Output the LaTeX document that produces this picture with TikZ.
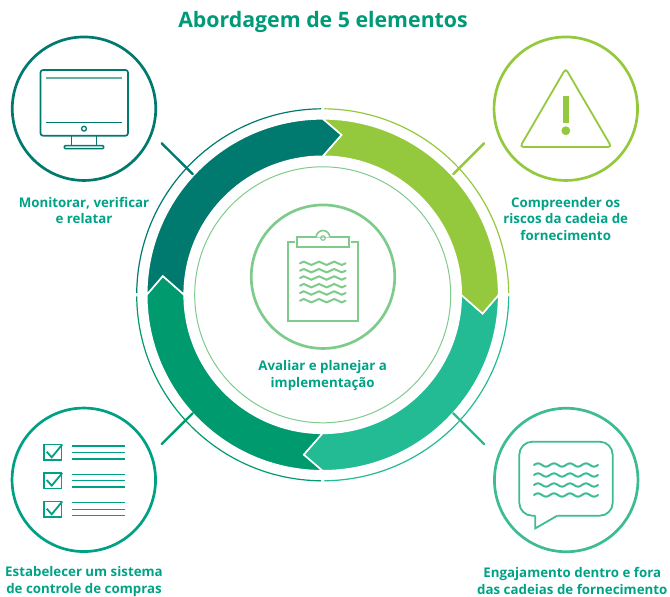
\documentclass[tikz,border=0pt]{standalone}
\usepackage{fontspec}
\setmainfont{Open Sans}
\definecolor{tealdark}{HTML}{007A6F}
\definecolor{limegreen}{HTML}{95C93D}
\definecolor{tealsoft}{HTML}{22BB93}
\definecolor{greendeep}{HTML}{009A6F}
\definecolor{mintsoft}{HTML}{7FCB8C}
\definecolor{textgreen}{HTML}{00A286}
\definecolor{titlegreen}{HTML}{009A78}
\definecolor{checkgreen}{HTML}{00A084}
\definecolor{talkgreen}{HTML}{3DBB95}
\tikzset{
  iconcirc/.style={circle, draw=#1, line width=2.7pt, minimum size=143.5pt, inner sep=0pt},
  steplabel/.style={align=center, text=textgreen, font=\fontsize{13.3}{16.8}\selectfont\bfseries},
  tickline/.style={line width=2.4pt, line cap=round}
}
% One block of the ring, from angle #1 through a quarter turn
\newcommand{\ringblock}[2]{%
  \filldraw[fill=#2, draw=white, line width=1.6pt, line join=miter]
    (#1:176) arc[start angle=#1, delta angle=90, radius=176]
    -- (#1+96.7:161) -- (#1+90:138.5)
    arc[start angle=#1+90, delta angle=-90, radius=138.5]
    -- (#1+6.7:161) -- cycle;
}
% One wavy text line with its number of periods
\newcommand{\waveline}[3]{%
  \draw[#3, line width=2pt, line cap=round] (#1,#2)
    \foreach \n in {1,...,3} {sin ++(3.8,-1.7) cos ++(3.8,1.7) sin ++(3.8,1.7) cos ++(3.8,-1.7)};
}
\newcommand{\wavelinelong}[2]{%
  \draw[talkgreen, line width=2pt, line cap=round] (#1,#2)
    \foreach \n in {1,...,4} {sin ++(4,-1.7) cos ++(4,1.7) sin ++(4,1.7) cos ++(4,-1.7)};
}
\begin{document}
\begin{tikzpicture}[x=1pt, y=-1pt]
  \useasboundingbox (0,0) rectangle (670,597);

  % Title
  \node[text=titlegreen, font=\fontsize{21.3}{26}\selectfont\bfseries] (title) at (323,22) {Abordagem de 5 elementos};

  % Ring
  \begin{scope}[shift={(322.7,294.8)}]
    % Thin outer arcs
    \draw[tealdark, line width=1.2pt] (180.5:186) arc[start angle=180.5, delta angle=89, radius=186];
    \draw[limegreen, line width=1.2pt] (270.5:186) arc[start angle=270.5, delta angle=89, radius=186];
    \draw[tealsoft, line width=1.2pt] (0.5:186) arc[start angle=0.5, delta angle=89, radius=186];
    \draw[greendeep, line width=1.2pt] (90.5:186) arc[start angle=90.5, delta angle=89, radius=186];
    % Thick blocks
    \ringblock{90}{greendeep}
    \ringblock{0}{tealsoft}
    \ringblock{270}{limegreen}
    \ringblock{180}{tealdark}
    \draw[mintsoft, line width=1pt] (0,0) circle[radius=128];
  \end{scope}

  % Corner circles
  \node[iconcirc=tealdark] (monitor) at (84,108.7) {};
  \node[iconcirc=limegreen] (risk) at (565.8,108.7) {};
  \node[iconcirc=checkgreen] (control) at (83.8,479.8) {};
  \node[iconcirc=talkgreen] (engage) at (566.2,480) {};
  \node[iconcirc=mintsoft] (plan) at (323,276.7) {};

  % Ticks
  \coordinate (tlA) at (161.7,143.3);
  \coordinate (tlB) at (192.7,174);
  \coordinate (trA) at (484,143.3);
  \coordinate (trB) at (453.3,174);
  \coordinate (blA) at (161.7,444);
  \coordinate (blB) at (192.7,413.3);
  \coordinate (brA) at (484,444);
  \coordinate (brB) at (453.3,413.3);
  \draw[tickline, tealdark] (tlA) -- (tlB);
  \draw[tickline, limegreen] (trA) -- (trB);
  \draw[tickline, greendeep] (blA) -- (blB);
  \draw[tickline, tealsoft] (brA) -- (brB);

  % Monitor icon
  \draw[tealdark, line width=1.7pt, rounded corners=2.5pt] (40.5,70) rectangle (128,135.7);
  \draw[tealdark!60, line width=2.2pt] (46,77.7) -- (122,77.7);
  \draw[tealdark, line width=1.3pt] (46,122.7) -- (122,122.7);
  \draw[tealdark, line width=1.3pt] (84,128.7) circle[radius=2.4];
  \draw[tealdark, line width=1.5pt] (71.7,135.7) -- (71.7,145.7) (96.7,135.7) -- (96.7,145.7);
  \draw[tealdark, line width=1.5pt, rounded corners=1pt] (64.3,145.7) rectangle (103.7,148.7);

  % Warning icon
  \draw[limegreen, line width=1.8pt, rounded corners=3.5pt] (565.7,68.5) -- (611.5,147) -- (520,147) -- cycle;
  \fill[limegreen] (562.5,95.7) rectangle (569.2,123.3);
  \fill[limegreen] (565.8,130.7) circle[radius=4.4];

  % Checklist icon
  \draw[checkgreen, line width=1.8pt] (44,444.5) rectangle (61.5,460);
  \draw[checkgreen, line width=1.8pt] (46.7,451.7) -- (51.7,457.3) -- (62.3,444.5);
  \draw[checkgreen, line width=1.5pt] (72.3,446) -- (125,446) (72.3,452.7) -- (125,452.7) (72.3,459) -- (125,459);
  \draw[checkgreen, line width=1.8pt] (44,473) rectangle (61.5,488.5);
  \draw[checkgreen, line width=1.8pt] (46.7,480) -- (51.7,485.6) -- (62.3,473);
  \draw[checkgreen, line width=1.5pt] (72.3,474.3) -- (125,474.3) (72.3,480.7) -- (125,480.7) (72.3,487) -- (125,487);
  \draw[checkgreen, line width=1.8pt] (44,501.5) rectangle (61.5,517);
  \draw[checkgreen, line width=1.8pt] (46.7,508.7) -- (51.7,514.3) -- (62.3,501.5);
  \draw[checkgreen, line width=1.5pt] (72.3,502.7) -- (125,502.7) (72.3,509.3) -- (125,509.3) (72.3,515.7) -- (125,515.7);

  % Speech bubble icon
  \draw[talkgreen, line width=1.8pt, rounded corners=13pt] (535.3,515.7) -- (519.3,515.7) -- (519.3,441.7) -- (612.7,441.7) -- (612.7,515.7) -- (557.3,515.7);
  \draw[talkgreen, line width=1.8pt, line join=miter] (557.3,515.7) -- (535.3,528.3) -- (535.3,515.7);
  \wavelinelong{534}{465}
  \wavelinelong{534}{475}
  \wavelinelong{534}{485}
  \wavelinelong{534}{495}

  % Clipboard icon
  \draw[mintsoft, line width=1.9pt] (295,241.7) -- (288,241.7) -- (288,321) -- (358,321) -- (358,241.7) -- (351,241.7);
  \draw[mintsoft, line width=1.9pt] (296.7,237.3) rectangle (349,246.7);
  \filldraw[mintsoft, fill=white, line width=1.6pt] (316.2,237.3) arc[start angle=180, end angle=360, radius=6.8];
  \draw[mintsoft, line width=1.2pt] (323,238) circle[radius=2.3];
  \waveline{300}{263.3}{mintsoft}
  \waveline{300}{270.7}{mintsoft}
  \waveline{300}{278}{mintsoft}
  \waveline{300}{285.7}{mintsoft}
  \waveline{300}{293}{mintsoft}
  \waveline{300}{300.7}{mintsoft}

  % Labels
  \node[steplabel] (monitorlabel) at (84,210.5) {Monitorar, verificar\\e relatar};
  \node[steplabel] (risklabel) at (565.7,219) {Compreender os\\riscos da cadeia de\\fornecimento};
  \node[steplabel] (planlabel) at (322.7,375.8) {Avaliar e planejar a\\implementação};
  \node[steplabel] (controllabel) at (84,581.7) {Estabelecer um sistema\\de controle de compras};
  \node[steplabel] (engagelabel) at (572.3,581) {Engajamento dentro e fora\\das cadeias de fornecimento};
\end{tikzpicture}
\end{document}
